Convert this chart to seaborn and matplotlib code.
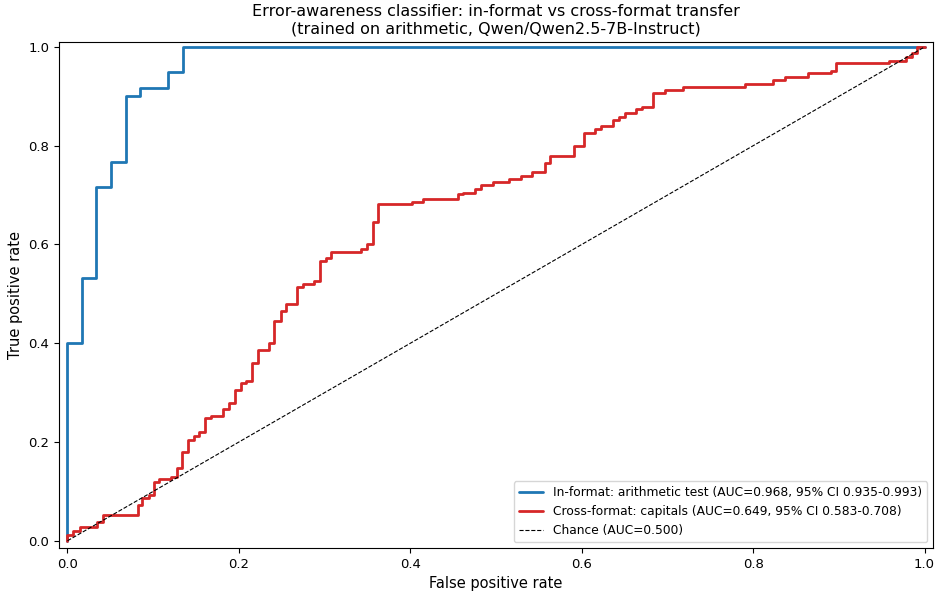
import matplotlib
matplotlib.use('Agg')
import matplotlib.pyplot as plt
import pandas as pd
import seaborn as sns

# ROC points (step corners)
in_fpr = [0.0, 0.0, 0.0172, 0.0336, 0.051, 0.068, 0.0847, 0.117, 0.135, 1.0]
in_tpr = [0.0, 0.4, 0.533, 0.717, 0.767, 0.9, 0.917, 0.95, 1.0, 1.0]

cross_fpr = [0.0, 0.0, 0.0067, 0.0144, 0.034, 0.041, 0.0824, 0.0874, 0.095, 0.101,
             0.107, 0.1206, 0.1276, 0.134, 0.141, 0.148, 0.154, 0.161, 0.168, 0.182,
             0.189, 0.1955, 0.202, 0.208, 0.215, 0.222, 0.235, 0.241, 0.249, 0.255,
             0.268, 0.275, 0.288, 0.295, 0.302, 0.308, 0.342, 0.349, 0.356, 0.362,
             0.402, 0.415, 0.4555, 0.462, 0.476, 0.483, 0.496, 0.5156, 0.529, 0.542,
             0.557, 0.563, 0.5905, 0.603, 0.616, 0.623, 0.637, 0.644, 0.651, 0.663,
             0.670, 0.683, 0.697, 0.718, 0.791, 0.823, 0.837, 0.864, 0.891, 0.897,
             0.958, 0.978, 0.985, 0.991, 1.0]
cross_tpr = [0.0, 0.012, 0.0197, 0.027, 0.0385, 0.052, 0.073, 0.086, 0.093, 0.120,
             0.126, 0.130, 0.147, 0.179, 0.205, 0.213, 0.220, 0.249, 0.252, 0.267,
             0.279, 0.306, 0.320, 0.3245, 0.360, 0.386, 0.400, 0.446, 0.4645, 0.479,
             0.514, 0.519, 0.526, 0.566, 0.572, 0.5855, 0.591, 0.600, 0.646, 0.681,
             0.686, 0.692, 0.702, 0.705, 0.713, 0.7195, 0.727, 0.732, 0.739, 0.7465,
             0.766, 0.779, 0.800, 0.825, 0.833, 0.840, 0.852, 0.859, 0.867, 0.874,
             0.879, 0.906, 0.912, 0.919, 0.926, 0.933, 0.940, 0.948, 0.952, 0.967,
             0.972, 0.979, 0.987, 1.0, 1.0]

chance = [0.0, 1.0]

labels = ['In-format: arithmetic test (AUC=0.968, 95% CI 0.935-0.993)',
          'Cross-format: capitals (AUC=0.649, 95% CI 0.583-0.708)',
          'Chance (AUC=0.500)']

sns.set_style("ticks", {'axes.edgecolor': 'black', 'text.color': 'black',
                        'axes.labelcolor': 'black', 'xtick.color': 'black',
                        'ytick.color': 'black'})
plt.rcParams['font.family'] = ['DejaVu Sans']
plt.rcParams['xtick.major.size'] = 3.5
plt.rcParams['ytick.major.size'] = 3.5

fig, ax = plt.subplots(figsize=(9.35, 5.92), dpi=100)
fig.subplots_adjust(left=0.063, right=0.998, top=0.929, bottom=0.074)

df_in = pd.DataFrame({'fpr': in_fpr, 'tpr': in_tpr})
df_cross = pd.DataFrame({'fpr': cross_fpr, 'tpr': cross_tpr})

sns.lineplot(data=df_in, x='fpr', y='tpr', ax=ax, sort=False, estimator=None,
             drawstyle='steps-post', color='#1f77b4', linewidth=2, label=labels[0])
sns.lineplot(data=df_cross, x='fpr', y='tpr', ax=ax, sort=False, estimator=None,
             drawstyle='steps-post', color='#d62728', linewidth=2, label=labels[1])
sns.lineplot(x=chance, y=chance, ax=ax, sort=False, estimator=None,
             color='black', linestyle='--', linewidth=0.8, label=labels[2])

ax.set_xlim(-0.01, 1.01)
ax.set_ylim(-0.015, 1.01)
ax.set_xlabel('False positive rate', fontsize=10.5)
ax.set_ylabel('True positive rate', fontsize=10.5)
ax.set_title('Error-awareness classifier: in-format vs cross-format transfer\n'
             '(trained on arithmetic, Qwen/Qwen2.5-7B-Instruct)', fontsize=11.5)
ax.tick_params(labelsize=9.5)
ax.legend(loc='lower right', fontsize=8.8)

plt.savefig('out.png', dpi=100)
